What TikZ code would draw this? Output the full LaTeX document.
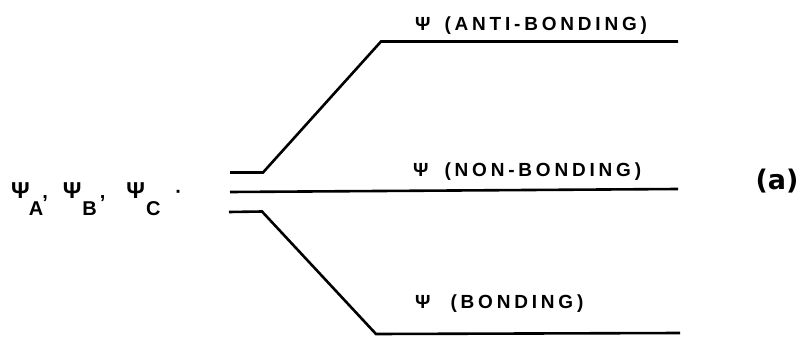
\documentclass[tikz,border=0pt]{standalone}
\usepackage{fontspec}
\setmainfont{Liberation Sans}
\newfontfamily\lettering[LetterSpace=20]{Liberation Sans}
\newfontfamily\tagfont{DejaVu Sans}
\newcommand\bigpsi{{\fontsize{23}{23}\selectfont Ψ}}
\begin{document}
\begin{tikzpicture}[x=1pt,y=-1pt,
  level/.style={line width=2.6pt, line join=miter},
  lbl/.style={inner sep=0pt, anchor=base west, font=\lettering\bfseries\fontsize{19}{19}\selectfont},
  side/.style={inner sep=0pt, anchor=base west, font=\lettering\bfseries\fontsize{20}{20}\selectfont},
  tag/.style={inner sep=0pt, font=\tagfont\bfseries\fontsize{27}{27}\selectfont}]
\useasboundingbox (0,0) rectangle (803,337);

% atomic-orbital stubs on the left
\coordinate (a1) at (230,172.5);
\coordinate (a2) at (263,172.5);
\coordinate (b1) at (230,192);
\coordinate (c1) at (229,212);
\coordinate (c2) at (262,211.5);

% molecular levels on the right
\coordinate (ab1) at (381,41.5);
\coordinate (ab2) at (678,41.5);
\coordinate (nb2) at (678,189);
\coordinate (bo1) at (376,334);
\coordinate (bo2) at (680,333);

\draw[level] (a1) -- (a2) -- (ab1) -- (ab2);
\draw[level] (b1) -- (nb2);
\draw[level] (c1) -- (c2) -- (bo1) -- (bo2);

% labels
\node[lbl] (anti) at (415,31) {Ψ\hspace{14pt}(ANTI-BONDING)};
\node[lbl] (non) at (413,176) {Ψ\hspace{16pt}(NON-BONDING)};
\node[lbl] (bond) at (415,308) {Ψ\hspace{20pt}(BONDING)};

\node[side] (basis) at (11,198)
  {\bigpsi\hspace{-1pt}\raisebox{-17pt}{A}\hspace{-1pt},\hspace{15pt}\bigpsi\hspace{1pt}\raisebox{-17pt}{B}\hspace{3pt},\hspace{21pt}\bigpsi\hspace{1pt}\raisebox{-17pt}{C}\hspace{15pt}·};

\node[tag] (case) at (777,181) {(a)};
\end{tikzpicture}
\end{document}
